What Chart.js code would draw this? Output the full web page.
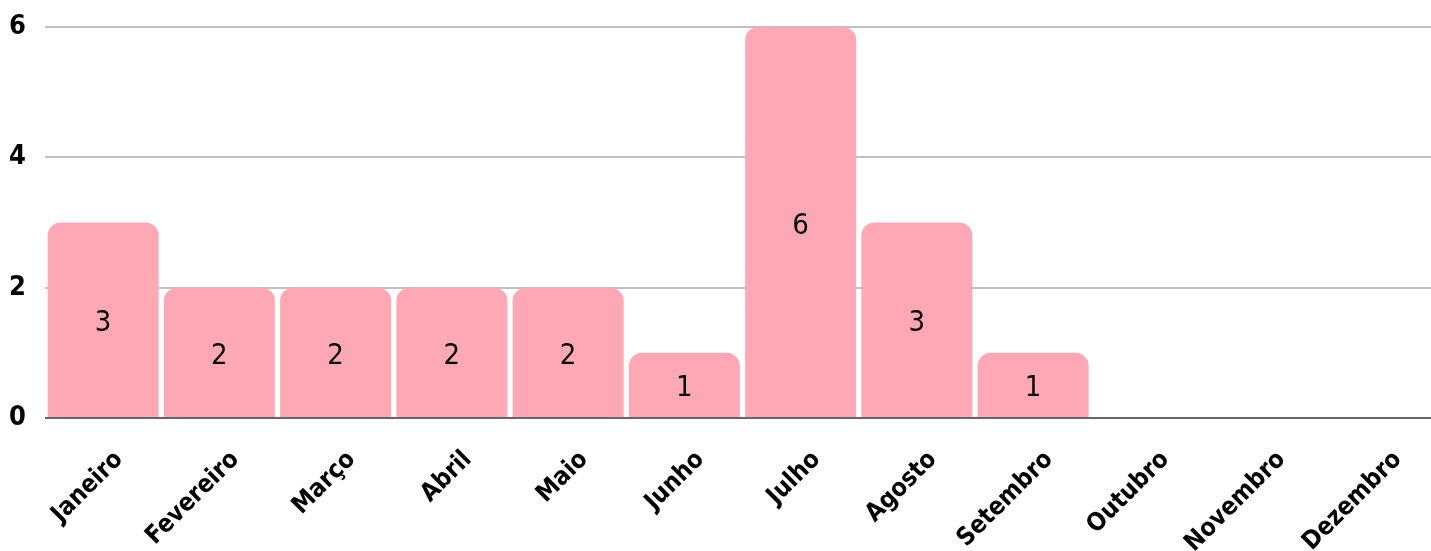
<!DOCTYPE html>
<html>
<head>
<meta charset="utf-8">
<script src="https://cdn.jsdelivr.net/npm/chart.js@4"></script>
<style>
  body { margin: 0; background: #fff; overflow: hidden; }
  /* plot runs a little past the right edge of the window, as in the original */
  #wrap { position: relative; width: 1440px; height: 551px; }
</style>
</head>
<body>
<div id="wrap"><canvas id="bar-chart"></canvas></div>
<script>
const months = ["Janeiro", "Fevereiro", "Março", "Abril", "Maio", "Junho", "Julho", "Agosto", "Setembro", "Outubro", "Novembro", "Dezembro"];
const counts = [3, 2, 2, 2, 2, 1, 6, 3, 1, 0, 0, 0];
const yTicks = [0, 2, 4, 6];

// draws the value in the middle of each bar
const barValues = {
  id: "barValues",
  afterDatasetsDraw(chart) {
    const ctx = chart.ctx;
    const meta = chart.getDatasetMeta(0);
    ctx.save();
    ctx.fillStyle = "#000";
    ctx.font = "29px 'DejaVu Sans Condensed'";
    ctx.textAlign = "center";
    ctx.textBaseline = "middle";
    meta.data.forEach((bar, i) => {
      const v = counts[i];
      if (!v) return;
      ctx.fillText(String(v), bar.x, (bar.y + bar.base) / 2 + 4);
    });
    ctx.restore();
  },
};

let config = {
  type: "bar",
  data: {
    labels: months,
    datasets: [
      {
        data: counts,
        backgroundColor: "#ffa8b5",
        borderWidth: 0,
        borderRadius: { topLeft: 13, topRight: 13 },
        borderSkipped: "bottom",
        categoryPercentage: 1,
        barPercentage: 0.955,
      },
    ],
  },
  options: {
    maintainAspectRatio: false,
    responsive: true,
    animation: false,
    layout: { padding: { top: 27, right: 0, left: 0, bottom: 0 } },
    plugins: {
      legend: { display: false },
      tooltip: { enabled: false },
    },
    scales: {
      x: {
        grid: { display: false },
        border: { display: false },
        afterFit(scale) {
          scale.paddingLeft = 0;
          scale.paddingRight = 0;
          scale.height = 133;
        },
        ticks: {
          color: "#000",
          font: { family: "'DejaVu Sans Condensed'", weight: "bold", size: 25 },
          minRotation: 45,
          maxRotation: 45,
          padding: 19,
          labelOffset: 16,
        },
      },
      y: {
        min: 0,
        max: 6,
        afterBuildTicks(scale) {
          scale.ticks = yTicks.map((v) => ({ value: v }));
        },
        afterFit(scale) {
          scale.width = 45;
          scale.paddingTop = 0;
          scale.paddingBottom = 0;
        },
        grid: {
          color: (c) => (c.tick && c.tick.value === 0 ? "#666" : "#c0c0c0"),
          lineWidth: 2,
          drawTicks: false,
        },
        border: { display: false },
        ticks: {
          color: "#000",
          font: { family: "'DejaVu Sans Condensed'", weight: "bold", size: 27 },
          padding: 19,
        },
      },
    },
  },
  plugins: [barValues],
};

let ctx = document.getElementById("bar-chart").getContext("2d");
new Chart(ctx, config);
</script>
</body>
</html>
